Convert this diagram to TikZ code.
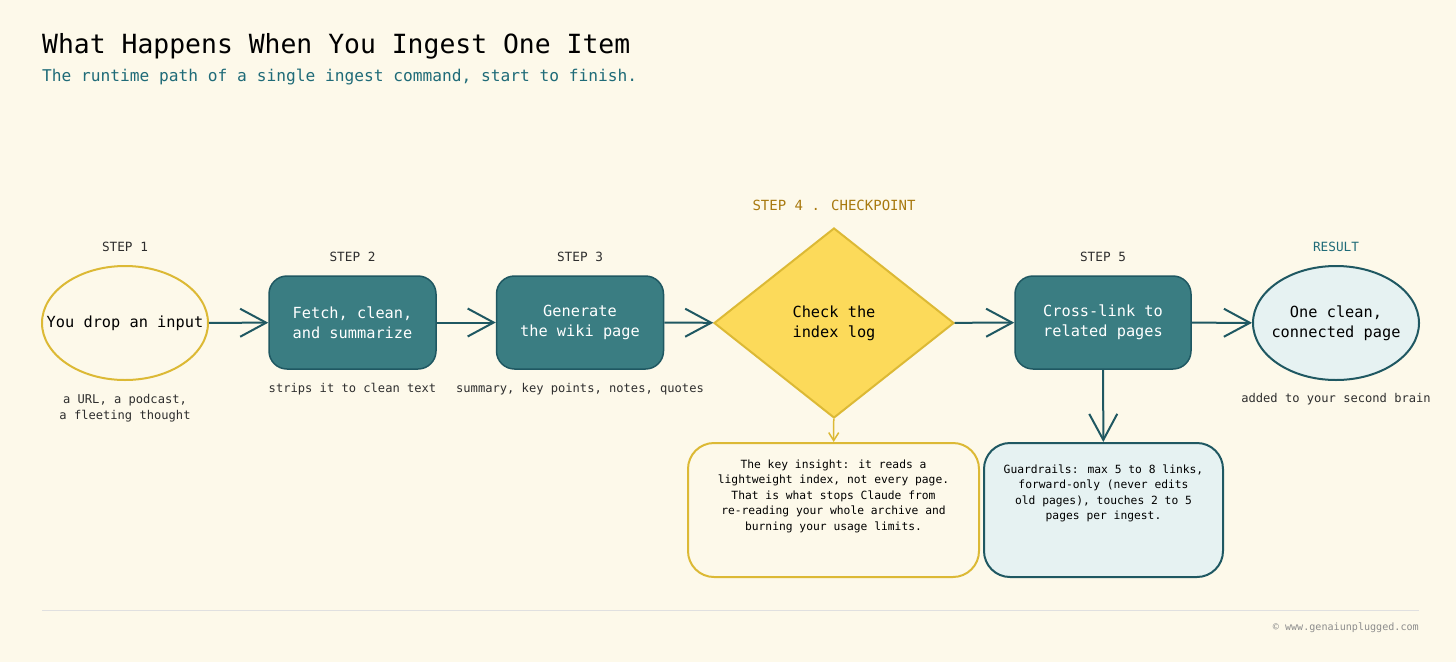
\documentclass[tikz,border=0pt]{standalone}
\usepackage{fontspec}
\setmainfont{DejaVu Sans Mono}
\usetikzlibrary{shapes.geometric,arrows.meta}

\definecolor{cream}{HTML}{FDF9EA}
\definecolor{tealbox}{HTML}{3A7D82}
\definecolor{tealline}{HTML}{1F5862}
\definecolor{tealtext}{HTML}{1F6B78}
\definecolor{gold}{HTML}{DCB935}
\definecolor{goldfill}{HTML}{FCDA5A}
\definecolor{goldtext}{HTML}{A8790F}
\definecolor{iceblue}{HTML}{E6F2F2}
\definecolor{darkgray}{HTML}{2E2E2E}

\begin{document}
\begin{tikzpicture}[x=1pt,y=-1pt,
  steplabel/.style={text=darkgray, font=\fontsize{12.7}{15}\selectfont},
  caption/.style={text=darkgray, align=center, font=\fontsize{12.1}{15.5}\selectfont},
  stepbox/.style={draw=tealline, fill=tealbox, line width=1.5pt, rounded corners=18pt,
    minimum width=167pt, minimum height=93pt, text=white, align=center,
    font=\fontsize{15.3}{20}\selectfont},
  oval/.style={ellipse, line width=2pt, minimum width=166pt, minimum height=114pt,
    inner xsep=-22pt, inner ysep=0pt, align=center, font=\fontsize{15.3}{20}\selectfont},
  flow/.style={draw=tealline, line width=2pt, -{Straight Barb[length=26pt,width=28pt,line width=2pt]}},
  notebox/.style={rounded corners=26pt, line width=2pt, minimum height=134pt},
  notetext/.style={align=center, font=\fontsize{11.3}{15.6}\selectfont, anchor=north}]

\useasboundingbox[fill=cream] (0,0) rectangle (1456,662);

% title
\node[anchor=base west, font=\fontsize{26.4}{30}\selectfont, text=black, inner sep=0] (title) at (42,53) {What Happens When You Ingest One Item};
\node[anchor=base west, font=\fontsize{16.2}{20}\selectfont, text=tealtext, inner sep=0] (subtitle) at (42,81) {The runtime path of a single ingest command, start to finish.};

% main row
\node[oval, draw=gold] (drop) at (125,323) {You drop an input};
\node[stepbox] (fetch) at (352.5,322.5) {Fetch, clean,\\and summarize};
\node[stepbox] (gen) at (580,322.5) {Generate\\the wiki page};
\node[diamond, draw=gold, fill=goldfill, line width=2pt, minimum width=240pt, minimum height=190pt,
  inner sep=0, align=center, font=\fontsize{15.3}{20}\selectfont] (check) at (834,323) {Check the\\index log};
\node[stepbox, minimum width=176pt] (link) at (1103,322.5) {Cross-link to\\related pages};
\node[oval, draw=tealline, fill=iceblue] (result) at (1336,323) {One clean,\\connected page};

% labels above
\node[steplabel] (s1) at (125,247) {STEP 1};
\node[steplabel] (s2) at (352.5,257) {STEP 2};
\node[steplabel] (s3) at (580,257) {STEP 3};
\node[steplabel, text=goldtext, font=\fontsize{14}{16}\selectfont] (s4) at (834,205) {STEP 4 . CHECKPOINT};
\node[steplabel] (s5) at (1103,257) {STEP 5};
\node[steplabel, text=tealtext] (sr) at (1336,247) {RESULT};

% captions below
\node[caption] (c1) at (125,408) {a URL, a podcast,\\a fleeting thought};
\node[caption] (c2) at (352.5,389) {strips it to clean text};
\node[caption] (c3) at (580,389) {summary, key points, notes, quotes};
\node[caption] (cr) at (1336,399) {added to your second brain};

% notes
\node[notebox, draw=gold, fill=cream, minimum width=291pt] (insight) at (833.5,510) {};
\node[notetext] (insighttxt) at (833.5,456) {The key insight: it reads a\\lightweight index, not every page.\\That is what stops Claude from\\re-reading your whole archive and\\burning your usage limits.};
\node[notebox, draw=tealline, fill=iceblue, minimum width=239pt] (guard) at (1103.5,510) {};
\node[notetext] (guardtxt) at (1103.5,461) {Guardrails: max 5 to 8 links,\\forward-only (never edits\\old pages), touches 2 to 5\\pages per ingest.};

% connectors
\draw[flow] (drop) -- (fetch);
\draw[flow] (fetch) -- (gen);
\draw[flow] (gen) -- (check);
\draw[flow] (check) -- (link);
\draw[flow] (link) -- (result);
\draw[flow] (link) -- (guard);
\draw[draw=gold, line width=1.5pt, -{Straight Barb[length=8pt,width=10pt,line width=1.5pt]}] (check) -- (insight);

% footer
\draw[draw=black!12, line width=1pt] (42,610) -- (1419,610);
\node[anchor=base east, text=black!45, font=\fontsize{10.1}{12}\selectfont, inner sep=0] (site) at (1419,630) {© www.genaiunplugged.com};
\end{tikzpicture}
\end{document}
